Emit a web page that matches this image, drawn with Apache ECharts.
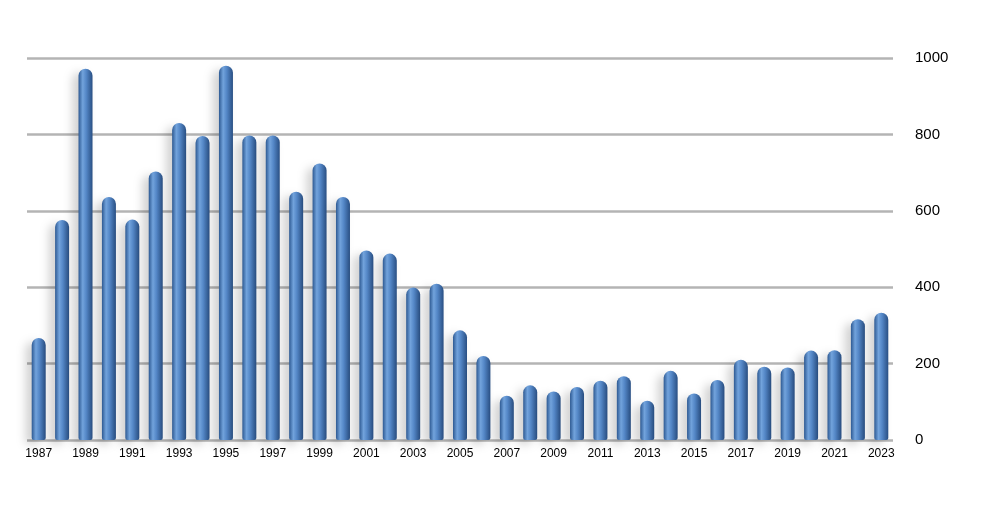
<!DOCTYPE html>
<html>
<head>
<meta charset="utf-8">
<script src="https://cdn.jsdelivr.net/npm/echarts@6/dist/echarts.min.js"></script>
<style>
  html, body { margin: 0; padding: 0; background: #fff; }
  #main { width: 1000px; height: 518px; }
</style>
</head>
<body>
<div id="main"></div>
<script>
// 年份
var years = ['1987','1988','1989','1990','1991','1992','1993','1994','1995','1996',
  '1997','1998','1999','2000','2001','2002','2003','2004','2005','2006',
  '2007','2008','2009','2010','2011','2012','2013','2014','2015','2016',
  '2017','2018','2019','2020','2021','2022','2023'];

// 每年数值
var values = [267, 576, 972, 636, 577, 703, 830, 796, 980, 797,
  797, 650, 724, 636, 496, 488, 399, 409, 287, 220,
  116, 143, 127, 139, 155, 167, 103, 181, 122, 157,
  210, 192, 190, 234, 235, 316, 333];

// y轴刻度
var yTicks = [0, 200, 400, 600, 800, 1000];

var myChart = echarts.init(document.getElementById('main'));

var option = {
  animation: false,
  backgroundColor: '#ffffff',
  grid: {
    left: 27,
    right: 107,
    top: 58,
    bottom: 78
  },
  xAxis: {
    type: 'category',
    data: years,
    axisLine: { show: false },
    axisTick: { show: false },
    axisLabel: {
      interval: 1,
      color: '#000',
      fontSize: 12,
      fontFamily: 'Liberation Sans',
      margin: 8
    }
  },
  yAxis: {
    type: 'value',
    position: 'right',
    min: yTicks[0],
    max: yTicks[yTicks.length - 1],
    interval: 200,
    axisLine: { show: false },
    axisTick: { show: false },
    axisLabel: {
      color: '#000',
      fontSize: 15,
      fontFamily: 'Liberation Sans',
      margin: 22,
      formatter: function (v) { return String(v); }
    },
    splitLine: {
      lineStyle: { color: '#b4b4b4', width: 2.5 }
    }
  },
  series: [{
    type: 'bar',
    data: values,
    barWidth: 14,
    itemStyle: {
      // 模拟圆柱的光泽
      color: new echarts.graphic.LinearGradient(0, 0, 1, 0, [
        { offset: 0, color: '#2d5992' },
        { offset: 0.3, color: '#72a3dc' },
        { offset: 0.55, color: '#5487c7' },
        { offset: 1, color: '#294f83' }
      ]),
      borderRadius: [7, 7, 2, 2],
      shadowColor: 'rgba(0,0,0,0.18)',
      shadowBlur: 10,
      shadowOffsetX: -6,
      shadowOffsetY: 4
    }
  }]
};

myChart.setOption(option);
</script>
</body>
</html>
